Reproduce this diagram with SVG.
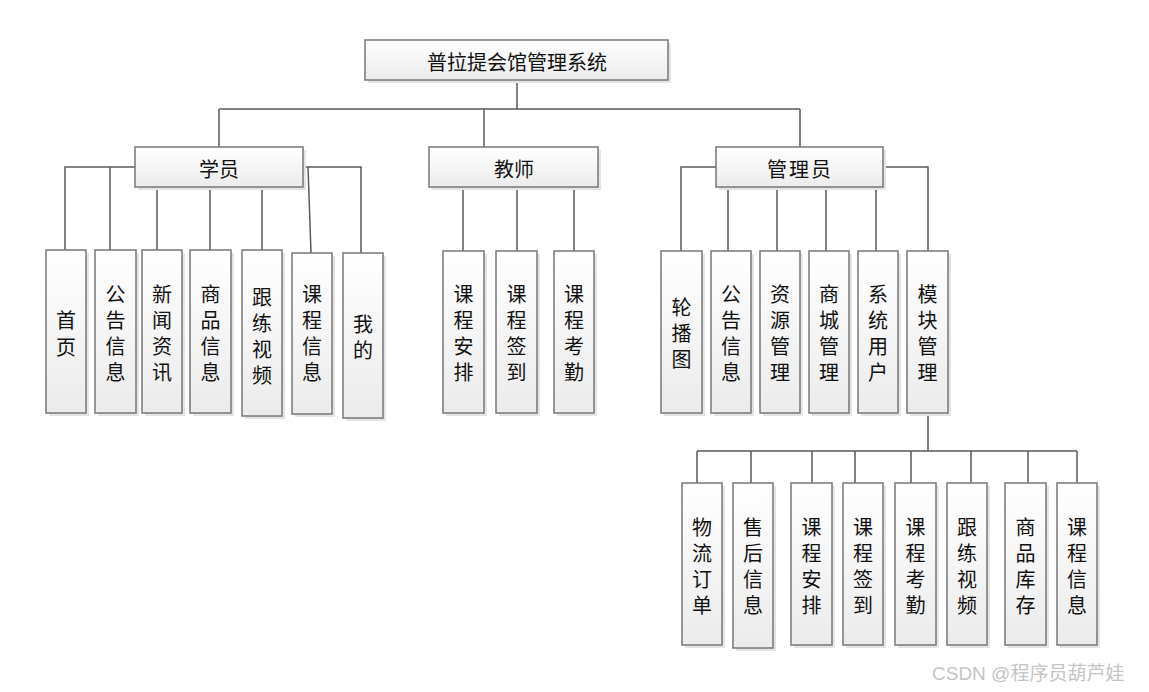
<svg xmlns="http://www.w3.org/2000/svg" width="1149" height="692" viewBox="0 0 1149 692">
<defs>
<linearGradient id="g" x1="0" y1="0" x2="0" y2="1">
<stop offset="0" stop-color="#ffffff"/>
<stop offset="1" stop-color="#ebebeb"/>
</linearGradient>
<style>
.box{fill:url(#g);stroke:#777;stroke-width:1.5}
.sh{fill:#e4e4e4;stroke:none}
.t{font-family:"Noto Sans CJK SC","Liberation Sans",sans-serif;font-size:20px;fill:#111;text-anchor:middle;dominant-baseline:central}
.ln{stroke:#5a5a5a;stroke-width:1.5;fill:none}
.wm{font-family:"Liberation Sans","Noto Sans CJK SC",sans-serif;font-size:19px;fill:#c4c4c4}
</style>
</defs>
<rect width="1149" height="692" fill="#fff"/>
<g id="connectors">
<path class="ln" d="M517 80V109M219 109H800M219 109V147M484 109V147M800 109V147"/>
<path class="ln" d="M135 167H65V250M135 167H110V250M303 167H361V253M308 167L311 253M157 187V250M210 187V250M262 187V250"/>
<path class="ln" d="M463 187V251M517 187V251M574 187V251"/>
<path class="ln" d="M716 167H681V251M883 167H928V251M728 187V251M777 187V251M826 187V251M876 187V251"/>
<path class="ln" d="M928 413V451M697 451H1077M697 451V483M751 451V483M812 451V483M855 451V483M911 451V483M971 451V483M1028 451V483M1077 451V483"/>
</g>
<g id="root"><rect class="sh" x="368" y="43" width="303" height="40"/><rect class="box" x="365" y="40" width="303" height="40"/><text class="t" x="517" y="61" font-size="21">普拉提会馆管理系统</text></g>
<g id="student"><rect class="sh" x="138" y="150" width="168" height="40"/><rect class="box" x="135" y="147" width="168" height="40"/><text class="t" x="219" y="168">学员</text></g>
<g id="teacher"><rect class="sh" x="432" y="150" width="169" height="40"/><rect class="box" x="429" y="147" width="169" height="40"/><text class="t" x="514" y="168">教师</text></g>
<g id="admin"><rect class="sh" x="719" y="150" width="167" height="40"/><rect class="box" x="716" y="147" width="167" height="40"/><text class="t" x="800" y="168" letter-spacing="2">管理员</text></g>

<g id="s1"><rect class="sh" x="49" y="253" width="40" height="163"/><rect class="box" x="46" y="250" width="40" height="163"/><text class="t" x="66"><tspan x="66" y="319">首</tspan><tspan x="66" y="346">页</tspan></text></g>
<g id="s2"><rect class="sh" x="98" y="253" width="41" height="163"/><rect class="box" x="95" y="250" width="41" height="163"/><text class="t"><tspan x="115.5" y="293">公</tspan><tspan x="115.5" y="319">告</tspan><tspan x="115.5" y="345">信</tspan><tspan x="115.5" y="371">息</tspan></text></g>
<g id="s3"><rect class="sh" x="145" y="253" width="40" height="163"/><rect class="box" x="142" y="250" width="40" height="163"/><text class="t"><tspan x="162" y="293">新</tspan><tspan x="162" y="319">闻</tspan><tspan x="162" y="345">资</tspan><tspan x="162" y="371">讯</tspan></text></g>
<g id="s4"><rect class="sh" x="193" y="253" width="41" height="163"/><rect class="box" x="190" y="250" width="41" height="163"/><text class="t"><tspan x="210.5" y="293">商</tspan><tspan x="210.5" y="319">品</tspan><tspan x="210.5" y="345">信</tspan><tspan x="210.5" y="371">息</tspan></text></g>
<g id="s5"><rect class="sh" x="245" y="253" width="40" height="166"/><rect class="box" x="242" y="250" width="40" height="166"/><text class="t"><tspan x="262" y="296">跟</tspan><tspan x="262" y="322">练</tspan><tspan x="262" y="348">视</tspan><tspan x="262" y="374">频</tspan></text></g>
<g id="s6"><rect class="sh" x="295" y="256" width="40" height="161"/><rect class="box" x="292" y="253" width="40" height="161"/><text class="t"><tspan x="312" y="293">课</tspan><tspan x="312" y="319">程</tspan><tspan x="312" y="345">信</tspan><tspan x="312" y="371">息</tspan></text></g>
<g id="s7"><rect class="sh" x="346" y="256" width="40" height="165"/><rect class="box" x="343" y="253" width="40" height="165"/><text class="t"><tspan x="363" y="323">我</tspan><tspan x="363" y="349">的</tspan></text></g>

<g id="t1"><rect class="sh" x="446" y="254" width="41" height="162"/><rect class="box" x="443" y="251" width="41" height="162"/><text class="t"><tspan x="463.5" y="293">课</tspan><tspan x="463.5" y="319">程</tspan><tspan x="463.5" y="345">安</tspan><tspan x="463.5" y="371">排</tspan></text></g>
<g id="t2"><rect class="sh" x="499" y="254" width="41" height="162"/><rect class="box" x="496" y="251" width="41" height="162"/><text class="t"><tspan x="516.5" y="293">课</tspan><tspan x="516.5" y="319">程</tspan><tspan x="516.5" y="345">签</tspan><tspan x="516.5" y="371">到</tspan></text></g>
<g id="t3"><rect class="sh" x="557" y="254" width="40" height="162"/><rect class="box" x="554" y="251" width="40" height="162"/><text class="t"><tspan x="574" y="293">课</tspan><tspan x="574" y="319">程</tspan><tspan x="574" y="345">考</tspan><tspan x="574" y="371">勤</tspan></text></g>

<g id="a1"><rect class="sh" x="664" y="254" width="41" height="162"/><rect class="box" x="661" y="251" width="41" height="162"/><text class="t"><tspan x="681.5" y="306">轮</tspan><tspan x="681.5" y="332">播</tspan><tspan x="681.5" y="358">图</tspan></text></g>
<g id="a2"><rect class="sh" x="714" y="254" width="40" height="162"/><rect class="box" x="711" y="251" width="40" height="162"/><text class="t"><tspan x="731" y="293">公</tspan><tspan x="731" y="319">告</tspan><tspan x="731" y="345">信</tspan><tspan x="731" y="371">息</tspan></text></g>
<g id="a3"><rect class="sh" x="763" y="254" width="40" height="162"/><rect class="box" x="760" y="251" width="40" height="162"/><text class="t"><tspan x="780" y="293">资</tspan><tspan x="780" y="319">源</tspan><tspan x="780" y="345">管</tspan><tspan x="780" y="371">理</tspan></text></g>
<g id="a4"><rect class="sh" x="812" y="254" width="40" height="162"/><rect class="box" x="809" y="251" width="40" height="162"/><text class="t"><tspan x="829" y="293">商</tspan><tspan x="829" y="319">城</tspan><tspan x="829" y="345">管</tspan><tspan x="829" y="371">理</tspan></text></g>
<g id="a5"><rect class="sh" x="861" y="254" width="40" height="162"/><rect class="box" x="858" y="251" width="40" height="162"/><text class="t"><tspan x="878" y="293">系</tspan><tspan x="878" y="319">统</tspan><tspan x="878" y="345">用</tspan><tspan x="878" y="371">户</tspan></text></g>
<g id="a6"><rect class="sh" x="910" y="254" width="41" height="162"/><rect class="box" x="907" y="251" width="41" height="162"/><text class="t"><tspan x="927.5" y="293">模</tspan><tspan x="927.5" y="319">块</tspan><tspan x="927.5" y="345">管</tspan><tspan x="927.5" y="371">理</tspan></text></g>

<g id="m1"><rect class="sh" x="685" y="486" width="40" height="162"/><rect class="box" x="682" y="483" width="40" height="162"/><text class="t"><tspan x="702" y="526">物</tspan><tspan x="702" y="552">流</tspan><tspan x="702" y="578">订</tspan><tspan x="702" y="604">单</tspan></text></g>
<g id="m2"><rect class="sh" x="736" y="486" width="40" height="165"/><rect class="box" x="733" y="483" width="40" height="165"/><text class="t"><tspan x="753" y="526">售</tspan><tspan x="753" y="552">后</tspan><tspan x="753" y="578">信</tspan><tspan x="753" y="604">息</tspan></text></g>
<g id="m3"><rect class="sh" x="794" y="486" width="41" height="162"/><rect class="box" x="791" y="483" width="41" height="162"/><text class="t"><tspan x="811.5" y="526">课</tspan><tspan x="811.5" y="552">程</tspan><tspan x="811.5" y="578">安</tspan><tspan x="811.5" y="604">排</tspan></text></g>
<g id="m4"><rect class="sh" x="846" y="486" width="40" height="162"/><rect class="box" x="843" y="483" width="40" height="162"/><text class="t"><tspan x="863" y="526">课</tspan><tspan x="863" y="552">程</tspan><tspan x="863" y="578">签</tspan><tspan x="863" y="604">到</tspan></text></g>
<g id="m5"><rect class="sh" x="898" y="486" width="41" height="162"/><rect class="box" x="895" y="483" width="41" height="162"/><text class="t"><tspan x="915.5" y="526">课</tspan><tspan x="915.5" y="552">程</tspan><tspan x="915.5" y="578">考</tspan><tspan x="915.5" y="604">勤</tspan></text></g>
<g id="m6"><rect class="sh" x="950" y="486" width="40" height="162"/><rect class="box" x="947" y="483" width="40" height="162"/><text class="t"><tspan x="967" y="526">跟</tspan><tspan x="967" y="552">练</tspan><tspan x="967" y="578">视</tspan><tspan x="967" y="604">频</tspan></text></g>
<g id="m7"><rect class="sh" x="1008" y="486" width="41" height="162"/><rect class="box" x="1005" y="483" width="41" height="162"/><text class="t"><tspan x="1025.5" y="526">商</tspan><tspan x="1025.5" y="552">品</tspan><tspan x="1025.5" y="578">库</tspan><tspan x="1025.5" y="604">存</tspan></text></g>
<g id="m8"><rect class="sh" x="1060" y="486" width="40" height="162"/><rect class="box" x="1057" y="483" width="40" height="162"/><text class="t"><tspan x="1077" y="526">课</tspan><tspan x="1077" y="552">程</tspan><tspan x="1077" y="578">信</tspan><tspan x="1077" y="604">息</tspan></text></g>

<text class="wm" x="932" y="680">CSDN @程序员葫芦娃</text>
</svg>
